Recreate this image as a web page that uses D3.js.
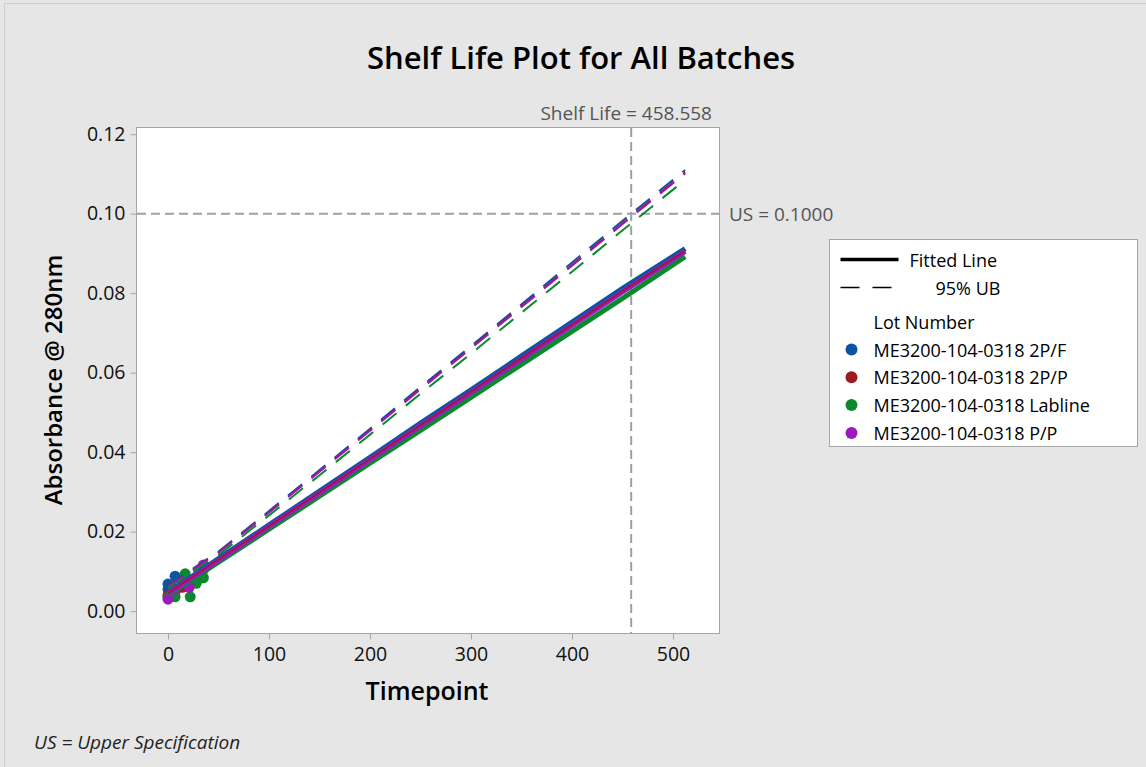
<!DOCTYPE html>
<html>
<head>
<meta charset="utf-8">
<script src="https://cdn.jsdelivr.net/npm/d3@7"></script>
<style>
  body { margin: 0; background: #e6e6e6; }
  svg { display: block; font-family: "Open Sans", "Noto Sans", sans-serif; }
</style>
</head>
<body>
<div id="chart"></div>
<script>
/* Data */

var lots = ["ME3200-104-0318 2P/F", "ME3200-104-0318 2P/P", "ME3200-104-0318 Labline", "ME3200-104-0318 P/P"];
var lotColors = ["#0a56a5", "#9b1b1f", "#0b8a2d", "#9a1ac0"];

// observed points per lot (timepoint, absorbance)
var obsTime = [
  [0, 0, 7, 14, 21, 35],
  [0, 7, 14, 21, 35],
  [0, 7, 17, 22, 28, 35],
  [0, 7, 14, 21, 35]
];
var obsValue = [
  [0.0055, 0.0068, 0.0088, 0.0065, 0.0075, 0.0110],
  [0.0040, 0.0050, 0.0060, 0.0075, 0.0105],
  [0.0035, 0.0036, 0.0094, 0.0036, 0.0070, 0.0084],
  [0.0030, 0.0055, 0.0072, 0.0060, 0.0116]
];

// fitted line and 95% upper bound
var curveTime = [0, 50, 100, 150, 200, 250, 300, 350, 400, 450, 512];
var fitted = [
  [0.0047, 0.0132, 0.0217, 0.0302, 0.0387, 0.0473, 0.0557, 0.0642, 0.0727, 0.0812, 0.0912],
  [0.0045, 0.0130, 0.0214, 0.0299, 0.0383, 0.0468, 0.0552, 0.0637, 0.0721, 0.0806, 0.0906],
  [0.0040, 0.0123, 0.0206, 0.0289, 0.0372, 0.0455, 0.0538, 0.0621, 0.0704, 0.0787, 0.0892],
  [0.0044, 0.0128, 0.0213, 0.0297, 0.0381, 0.0466, 0.0550, 0.0634, 0.0719, 0.0803, 0.0905]
];
var upperBound = [
  [0.0065, 0.0150, 0.0252, 0.0355, 0.0459, 0.0564, 0.0667, 0.0772, 0.0877, 0.0982, 0.1110],
  [0.0063, 0.0148, 0.0249, 0.0352, 0.0455, 0.0560, 0.0663, 0.0767, 0.0871, 0.0976, 0.1104],
  [0.0058, 0.0141, 0.0241, 0.0342, 0.0444, 0.0547, 0.0648, 0.0751, 0.0854, 0.0958, 0.1085],
  [0.0062, 0.0147, 0.0248, 0.0351, 0.0454, 0.0558, 0.0661, 0.0765, 0.0869, 0.0974, 0.1101]
];

var xTicks = [0, 100, 200, 300, 400, 500];
var yTicks = [0, 0.02, 0.04, 0.06, 0.08, 0.10, 0.12];
var upperSpec = 0.1;
var shelfLife = 458.558;

/* Chart */

var width = 1146, height = 767;
var svg = d3.select("#chart").append("svg").attr("width", width).attr("height", height);

svg.append("rect").attr("x", 4.5).attr("y", 3.5).attr("width", width - 4).attr("height", height - 3)
  .attr("fill", "#e6e6e6").attr("stroke", "#cfcfcf");

var plot = {left: 136, right: 719, top: 127, bottom: 633};

var x = d3.scaleLinear().domain([-31.7, 545.5]).range([plot.left, plot.right]);
var y = d3.scaleLinear().domain([-0.0055, 0.1218]).range([plot.bottom, plot.top]);

svg.append("rect").attr("x", plot.left + 0.5).attr("y", plot.top + 0.5)
  .attr("width", plot.right - plot.left).attr("height", plot.bottom - plot.top)
  .attr("fill", "#fff").attr("stroke", "#a6a6a6");

// title
svg.append("text").attr("x", 581).attr("y", 69).attr("text-anchor", "middle")
  .style("font-size", "31px").style("font-weight", 600).attr("fill", "#000")
  .text("Shelf Life Plot for All Batches");

// axes
var xAxis = d3.axisBottom(x).tickValues(xTicks).tickSize(6).tickPadding(8).tickFormat(d3.format("d"));
var yAxis = d3.axisLeft(y).tickValues(yTicks).tickSize(6).tickPadding(5).tickFormat(d3.format(".2f"));

var gx = svg.append("g").attr("transform", "translate(0," + (plot.bottom + 0.5) + ")").call(xAxis);
var gy = svg.append("g").attr("transform", "translate(" + (plot.left + 0.5) + ",0)").call(yAxis);
[gx, gy].forEach(function(g) {
  g.select(".domain").remove();
  g.selectAll(".tick line").attr("stroke", "#a6a6a6");
  g.selectAll(".tick text").attr("fill", "#111").style("font-size", "19.5px").style("font-family", "'Open Sans', sans-serif");
});

svg.append("text").attr("x", 427).attr("y", 700).attr("text-anchor", "middle")
  .style("font-size", "25px").style("font-weight", 600).attr("fill", "#000").text("Timepoint");
svg.append("text").attr("transform", "translate(62,380) rotate(-90)").attr("text-anchor", "middle")
  .style("font-size", "24px").style("font-weight", 600).attr("fill", "#000").text("Absorbance @ 280nm");

// reference lines
svg.append("line").attr("x1", plot.left + 1).attr("x2", plot.right)
  .attr("y1", y(upperSpec)).attr("y2", y(upperSpec))
  .attr("stroke", "#a0a0a0").attr("stroke-width", 2).attr("stroke-dasharray", "9,5");
svg.append("line").attr("x1", x(shelfLife)).attr("x2", x(shelfLife))
  .attr("y1", plot.top + 1).attr("y2", plot.bottom)
  .attr("stroke", "#a0a0a0").attr("stroke-width", 2).attr("stroke-dasharray", "9,5");

svg.append("text").attr("x", 729).attr("y", y(upperSpec) + 7)
  .style("font-size", "19px").attr("fill", "#555").text("US = 0.1000");
svg.append("text").attr("x", 712).attr("y", 120).attr("text-anchor", "end")
  .style("font-size", "19px").attr("fill", "#555").text("Shelf Life = 458.558");

svg.append("clipPath").attr("id", "clip").append("rect")
  .attr("x", plot.left + 1).attr("y", plot.top + 1)
  .attr("width", plot.right - plot.left - 1).attr("height", plot.bottom - plot.top - 1);

var marks = svg.append("g").attr("clip-path", "url(#clip)");

// points
lots.forEach(function(lot, i) {
  marks.append("g").selectAll("circle")
    .data(obsTime[i].map(function(t, j) { return [t, obsValue[i][j]]; }))
    .enter().append("circle")
    .attr("cx", function(d) { return x(d[0]); })
    .attr("cy", function(d) { return y(d[1]); })
    .attr("r", 5.5)
    .attr("fill", lotColors[i]);
});

var line = d3.line()
  .x(function(d) { return x(d[0]); })
  .y(function(d) { return y(d[1]); });

function pairs(vals) {
  return curveTime.map(function(t, j) { return [t, vals[j]]; });
}

// 95% UB (dashed)
[0, 1, 3, 2].forEach(function(i) {
  marks.append("path").attr("d", line(pairs(upperBound[i])))
    .attr("fill", "none").attr("stroke", lotColors[i]).attr("stroke-width", 2)
    .attr("stroke-dasharray", "18,12");
});

// fitted lines: blue and green underneath, purple band, thin red on top
[[0, 5], [2, 5], [3, 5], [1, 1.5]].forEach(function(p) {
  marks.append("path").attr("d", line(pairs(fitted[p[0]])))
    .attr("fill", "none").attr("stroke", lotColors[p[0]]).attr("stroke-width", p[1]);
});

// legend
var lg = svg.append("g").attr("transform", "translate(829.5,239.5)");
lg.append("rect").attr("width", 308).attr("height", 207).attr("fill", "#fff").attr("stroke", "#a6a6a6");
lg.append("line").attr("x1", 11).attr("x2", 69).attr("y1", 20).attr("y2", 20)
  .attr("stroke", "#000").attr("stroke-width", 3.5);
lg.append("text").attr("x", 80).attr("y", 27).style("font-size", "18px").text("Fitted Line");
lg.append("line").attr("x1", 11).attr("x2", 63).attr("y1", 48).attr("y2", 48)
  .attr("stroke", "#000").attr("stroke-width", 1.5).attr("stroke-dasharray", "19,13");
lg.append("text").attr("x", 106).attr("y", 55).style("font-size", "18px").text("95% UB");
lg.append("text").attr("x", 44).attr("y", 89).style("font-size", "18px").text("Lot Number");
lots.forEach(function(lot, i) {
  lg.append("circle").attr("cx", 22).attr("cy", 110 + i * 27.8).attr("r", 6).attr("fill", lotColors[i]);
  lg.append("text").attr("x", 44).attr("y", 117 + i * 27.8).style("font-size", "18px").text(lot);
});

// footnote
svg.append("text").attr("x", 34).attr("y", 749).style("font-size", "19px").style("font-style", "italic")
  .attr("fill", "#222").text("US = Upper Specification");
</script>
</body>
</html>
